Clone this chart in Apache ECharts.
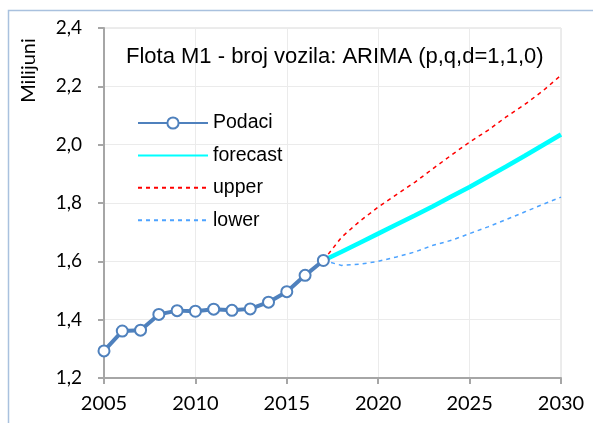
<!DOCTYPE html>
<html>
<head>
<meta charset="utf-8">
<script src="https://cdn.jsdelivr.net/npm/echarts@6/dist/echarts.min.js"></script>
<style>
  html, body { margin: 0; padding: 0; background: #ffffff; }
  #chart { width: 593px; height: 423px; }
</style>
</head>
<body>
<div id="chart"></div>
<script>
// Registered M1 vehicles (millions), observed series
const histYears = [2005, 2006, 2007, 2008, 2009, 2010, 2011, 2012, 2013, 2014, 2015, 2016, 2017];
const podaci = [1.293, 1.361, 1.364, 1.418, 1.431, 1.429, 1.436, 1.432, 1.437, 1.460, 1.496, 1.552, 1.603];

// ARIMA forecast with upper / lower bounds
const fcYears = [2017, 2018, 2019, 2020, 2021, 2022, 2023, 2024, 2025, 2026, 2027, 2028, 2029, 2030];
const forecast = [1.603, 1.633, 1.664, 1.695, 1.726, 1.757, 1.789, 1.822, 1.855, 1.890, 1.925, 1.961, 1.998, 2.035];
const upper = [1.603, 1.683, 1.738, 1.786, 1.829, 1.871, 1.918, 1.964, 2.009, 2.049, 2.095, 2.137, 2.184, 2.238];
const lower = [1.603, 1.586, 1.590, 1.600, 1.615, 1.632, 1.655, 1.672, 1.695, 1.718, 1.743, 1.769, 1.795, 1.820];

const titleText = 'Flota M1 - broj vozila: ARIMA (p,q,d=1,1,0)';
const yAxisTitle = 'Milijuni';

const pairs = (xs, ys) => xs.map((x, i) => [x, ys[i]]);

// legend entries for the plain lines carry no marker
const noMarker = { color: 'rgba(0,0,0,0)', borderColor: 'rgba(0,0,0,0)', borderWidth: 0 };

const chart = echarts.init(document.getElementById('chart'));

chart.setOption({
  animation: false,
  backgroundColor: '#ffffff',
  title: {
    text: titleText,
    left: 126,
    top: 46,
    padding: 0,
    textStyle: {
      fontFamily: 'Liberation Sans',
      fontSize: 22,
      fontWeight: 'normal',
      color: '#000000'
    }
  },
  legend: {
    orient: 'vertical',
    left: 137,
    top: 111,
    padding: 0,
    itemWidth: 70,
    itemHeight: 14,
    itemGap: 8.4,
    textStyle: {
      fontFamily: 'Liberation Sans',
      fontSize: 19.5,
      lineHeight: 24,
      color: '#000000'
    },
    data: [
      { name: 'Podaci' },
      { name: 'forecast', itemStyle: noMarker },
      { name: 'upper', itemStyle: noMarker },
      { name: 'lower', itemStyle: noMarker }
    ]
  },
  grid: {
    left: 104,
    right: 32,
    top: 28,
    bottom: 45,
    show: true,
    borderColor: '#d9d9d9',
    borderWidth: 1
  },
  xAxis: {
    type: 'value',
    min: 2005,
    max: 2030,
    interval: 5,
    axisLine: { show: true, lineStyle: { color: '#a6a6a6', width: 2 } },
    axisTick: { show: true, inside: false, length: 6, lineStyle: { color: '#a6a6a6', width: 2 } },
    splitLine: { show: true, lineStyle: { color: '#ebebeb', width: 1 } },
    axisLabel: {
      margin: 16,
      fontFamily: 'Lato',
      fontSize: 20,
      color: '#000000',
      formatter: v => String(v)
    }
  },
  yAxis: {
    type: 'value',
    min: 1.2,
    max: 2.4,
    interval: 0.2,
    axisLine: { show: true, lineStyle: { color: '#a6a6a6', width: 2 } },
    axisTick: { show: true, inside: false, length: 6, lineStyle: { color: '#a6a6a6', width: 2 } },
    splitLine: { show: true, lineStyle: { color: '#ebebeb', width: 1 } },
    axisLabel: {
      margin: 22,
      fontFamily: 'Lato',
      fontSize: 19,
      color: '#000000',
      formatter: v => v.toFixed(1).replace('.', ',')
    }
  },
  graphic: [
    {
      type: 'rect',
      silent: true,
      shape: { x: 8.5, y: 10.5, width: 700, height: 500 },
      style: { fill: 'none', stroke: '#a9c1de', lineWidth: 1.5 },
      z: 0
    },
    {
      type: 'text',
      silent: true,
      x: 29,
      y: 70.5,
      rotation: Math.PI / 2,
      style: {
        text: yAxisTitle,
        fontFamily: 'Lato',
        fontSize: 20,
        fill: '#000000',
        textAlign: 'center',
        textVerticalAlign: 'middle'
      }
    }
  ],
  series: [
    {
      name: 'upper',
      type: 'line',
      data: pairs(fcYears, upper),
      showSymbol: false,
      symbol: 'none',
      color: '#ff0000',
      lineStyle: { color: '#ff0000', width: 1.5, type: [4, 4] },
      z: 2
    },
    {
      name: 'lower',
      type: 'line',
      data: pairs(fcYears, lower),
      showSymbol: false,
      symbol: 'none',
      color: '#4da3ff',
      lineStyle: { color: '#4da3ff', width: 1.5, type: [4, 4] },
      z: 2
    },
    {
      name: 'forecast',
      type: 'line',
      data: pairs(fcYears, forecast),
      showSymbol: false,
      symbol: 'none',
      color: '#00ffff',
      lineStyle: { color: '#00ffff', width: 4.5 },
      z: 3
    },
    {
      name: 'Podaci',
      type: 'line',
      data: pairs(histYears, podaci),
      symbol: 'circle',
      symbolSize: 11,
      color: '#4f81bd',
      itemStyle: { color: '#ffffff', borderColor: '#4f81bd', borderWidth: 2 },
      lineStyle: { color: '#4f81bd', width: 4 },
      z: 4
    }
  ]
});
</script>
</body>
</html>
